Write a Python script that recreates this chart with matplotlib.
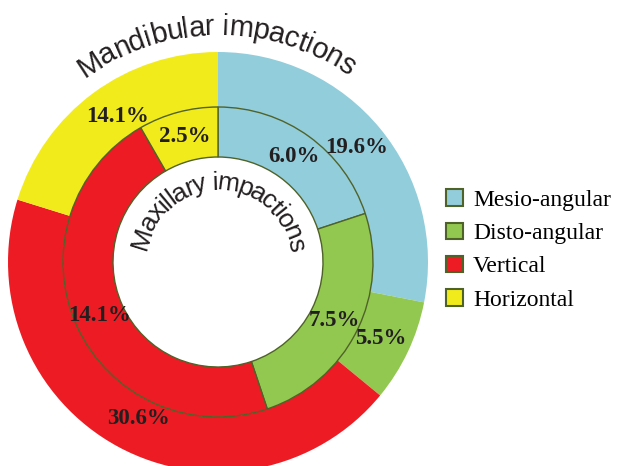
import numpy as np
import matplotlib
matplotlib.use("Agg")
import matplotlib.pyplot as plt
from matplotlib.patches import Patch
from matplotlib.font_manager import FontProperties
from matplotlib.textpath import TextToPath


categories = ["Mesio-angular", "Disto-angular", "Vertical", "Horizontal"]
mandibular = [19.6, 5.5, 30.6, 14.1]   # outer ring
maxillary = [6.0, 7.5, 14.1, 2.5]      # inner ring
outer_title = "Mandibular impactions"
inner_title = "Maxillary impactions"

colors = ["#92CDDC", "#92C850", "#ED1C24", "#F2EB1C"]
edge = "#4F6228"
ink = "#231F20"

W, H = 617, 466
cx, cy = 218, H - 262


def curved_text(ax, s, r, center_deg, size, r_adv=None):
    """write s on a circle (baseline radius r), upright, reading clockwise.
    letter spacing is measured along radius r_adv"""
    if r_adv is None:
        r_adv = r
    prop = FontProperties(family="Liberation Sans", size=size)
    t2p = TextToPath()
    px = 100 / 72.0
    base = t2p.get_text_width_height_descent("xx", prop, False)[0]
    widths = []
    for ch in s:
        w = t2p.get_text_width_height_descent("x" + ch + "x", prop, False)[0] - base
        widths.append(w * px)
    total = sum(widths)
    pos = 0.0
    for ch, w in zip(s, widths):
        mid = pos + w / 2
        ang = np.radians(center_deg) + (total / 2 - mid) / r_adv
        x = cx + r * np.cos(ang)
        y = cy + r * np.sin(ang)
        ax.text(x, y, ch, fontproperties=prop, color=ink,
                rotation=np.degrees(ang) - 90, rotation_mode="anchor",
                ha="center", va="baseline")
        pos += w


fig = plt.figure(figsize=(W / 100, H / 100), dpi=100)
ax = fig.add_axes([0, 0, 1, 1])

pct_font = dict(family="Liberation Serif", weight="bold", size=16.5, color=ink)

tot_out = sum(mandibular)
_, _, t_out = ax.pie(mandibular, radius=210, center=(cx, cy), startangle=90,
                     counterclock=False, colors=colors,
                     autopct=lambda p: f"{p * tot_out / 100:.1f}%",
                     pctdistance=0.855,
                     wedgeprops=dict(width=55, edgecolor="none"))

tot_in = sum(maxillary)
_, _, t_in = ax.pie(maxillary, radius=155, center=(cx, cy), startangle=90,
                    counterclock=False, colors=colors,
                    autopct=lambda p: f"{p * tot_in / 100:.1f}%",
                    pctdistance=0.84,
                    wedgeprops=dict(width=50, edgecolor=edge, linewidth=1.0))

for t in list(t_out) + list(t_in):
    t.set(**pct_font)
# the two left-hand outer labels sit a little further clockwise
for t in (t_out[2], t_out[3]):
    x, y = t.get_position()
    t.set_position((x + 6, y + 1))

curved_text(ax, outer_title, 227, 90.5, 21, r_adv=236)
curved_text(ax, inner_title, 72, 89, 19, r_adv=84)

handles = [Patch(facecolor=c, edgecolor=edge, linewidth=1.5) for c in colors]
ax.legend(handles, categories, loc="center left",
          bbox_to_anchor=(446 / W, 1 - 250 / H), frameon=False,
          borderpad=0, borderaxespad=0,
          handlelength=0.7, handleheight=0.7, handletextpad=0.45,
          labelspacing=0.5,
          prop=FontProperties(family="Liberation Serif", size=17))

ax.set_xlim(0, W)
ax.set_ylim(0, H)
ax.set_aspect("equal")
ax.axis("off")

fig.savefig("out.png", dpi=100)
